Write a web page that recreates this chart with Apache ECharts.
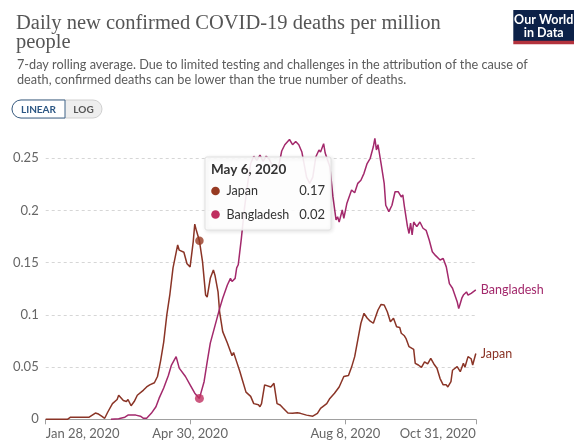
<!DOCTYPE html>
<html><head><meta charset="utf-8">
<script src="https://cdn.jsdelivr.net/npm/echarts@6/dist/echarts.min.js"></script>
<style>html,body{margin:0;padding:0;background:#fff}#c{width:582px;height:443px}</style>
</head><body><div id="c"></div>
<script>
// ---- data (7-day avg deaths per million) ----
const japan = [
['2020-01-28',0],['2020-02-11',0],['2020-02-13',0.002],['2020-02-18',0.002],['2020-02-25',0.002],
['2020-02-29',0.006],['2020-03-02',0.005],['2020-03-04',0.003],['2020-03-06',0.001],['2020-03-08',0.007],
['2020-03-11',0.015],['2020-03-14',0.019],['2020-03-15',0.023],['2020-03-18',0.018],['2020-03-20',0.017],
['2020-03-21',0.019],['2020-03-23',0.013],['2020-03-25',0.017],['2020-03-27',0.023],['2020-03-31',0.028],
['2020-04-02',0.031],['2020-04-04',0.033],['2020-04-07',0.035],['2020-04-09',0.041],['2020-04-11',0.056],
['2020-04-13',0.074],['2020-04-15',0.100],['2020-04-17',0.120],['2020-04-19',0.145],['2020-04-22',0.167],
['2020-04-23',0.162],['2020-04-26',0.160],['2020-04-28',0.149],['2020-04-30',0.146],['2020-05-02',0.170],
['2020-05-03',0.187],['2020-05-04',0.181],['2020-05-06',0.171],['2020-05-08',0.151],['2020-05-10',0.119],
['2020-05-11',0.117],['2020-05-13',0.135],['2020-05-15',0.143],['2020-05-16',0.138],['2020-05-18',0.122],
['2020-05-19',0.103],['2020-05-21',0.084],['2020-05-24',0.073],['2020-05-26',0.065],['2020-05-27',0.061],
['2020-05-28',0.064],['2020-05-30',0.055],['2020-06-01',0.046],['2020-06-03',0.036],['2020-06-05',0.026],
['2020-06-08',0.022],['2020-06-10',0.015],['2020-06-13',0.014],['2020-06-14',0.012],['2020-06-15',0.015],
['2020-06-17',0.033],['2020-06-18',0.033],['2020-06-21',0.031],['2020-06-23',0.0345],['2020-06-25',0.015],
['2020-06-27',0.0137],['2020-06-29',0.0105],['2020-07-02',0.006],['2020-07-05',0.0057],['2020-07-08',0.0063],
['2020-07-10',0.0057],['2020-07-14',0.004],['2020-07-18',0.003],['2020-07-21',0.0057],['2020-07-23',0.0105],
['2020-07-27',0.015],['2020-07-29',0.020],['2020-08-01',0.025],['2020-08-04',0.031],['2020-08-07',0.041],
['2020-08-10',0.042],['2020-08-12',0.050],['2020-08-14',0.060],['2020-08-16',0.076],['2020-08-18',0.092],
['2020-08-20',0.1015],['2020-08-22',0.097],['2020-08-24',0.094],['2020-08-26',0.092],['2020-08-29',0.1047],
['2020-08-31',0.110],['2020-09-02',0.1095],['2020-09-04',0.103],['2020-09-06',0.0935],['2020-09-08',0.0967],
['2020-09-10',0.0887],['2020-09-12',0.088],['2020-09-13',0.0824],['2020-09-15',0.080],['2020-09-16',0.0776],
['2020-09-18',0.0696],['2020-09-21',0.067],['2020-09-22',0.0536],['2020-09-24',0.052],['2020-09-26',0.0498],
['2020-09-28',0.055],['2020-09-30',0.053],['2020-10-02',0.0584],['2020-10-04',0.053],['2020-10-06',0.0489],
['2020-10-08',0.039],['2020-10-10',0.033],['2020-10-12',0.033],['2020-10-13',0.031],['2020-10-15',0.036],
['2020-10-16',0.047],['2020-10-19',0.0504],['2020-10-21',0.0456],['2020-10-23',0.0536],['2020-10-24',0.0498],
['2020-10-26',0.060],['2020-10-28',0.058],['2020-10-29',0.052],['2020-10-31',0.063]
];
const bangladesh = [
['2020-03-10',0],['2020-03-15',0.0005],['2020-03-19',0.002],['2020-03-21',0.004],['2020-03-26',0.004],
['2020-03-29',0.003],['2020-03-31',0.001],['2020-04-02',0.001],['2020-04-05',0.0057],['2020-04-08',0.012],
['2020-04-10',0.020],['2020-04-13',0.030],['2020-04-16',0.042],['2020-04-18',0.052],['2020-04-21',0.060],
['2020-04-23',0.049],['2020-04-27',0.041],['2020-04-30',0.033],['2020-05-03',0.025],['2020-05-06',0.020],
['2020-05-09',0.036],['2020-05-11',0.055],['2020-05-13',0.073],['2020-05-15',0.084],['2020-05-17',0.095],
['2020-05-19',0.106],['2020-05-21',0.116],['2020-05-24',0.1286],['2020-05-26',0.135],['2020-05-27',0.132],
['2020-05-29',0.135],['2020-05-30',0.145],['2020-05-31',0.148],['2020-06-02',0.173],['2020-06-04',0.202],
['2020-06-06',0.225],['2020-06-08',0.245],['2020-06-10',0.252],['2020-06-12',0.248],['2020-06-14',0.253],
['2020-06-16',0.247],['2020-06-18',0.252],['2020-06-20',0.249],['2020-06-22',0.243],['2020-06-24',0.241],
['2020-06-26',0.242],['2020-06-28',0.257],['2020-06-30',0.263],['2020-07-01',0.263],['2020-07-03',0.268],
['2020-07-05',0.263],['2020-07-07',0.266],['2020-07-09',0.263],['2020-07-11',0.256],['2020-07-14',0.232],
['2020-07-16',0.226],['2020-07-18',0.232],['2020-07-20',0.2515],['2020-07-22',0.258],['2020-07-23',0.256],
['2020-07-25',0.264],['2020-07-26',0.255],['2020-07-29',0.242],['2020-07-31',0.213],['2020-08-02',0.191],
['2020-08-03',0.194],['2020-08-04',0.189],['2020-08-06',0.2005],['2020-08-07',0.1925],['2020-08-09',0.207],
['2020-08-12',0.2196],['2020-08-14',0.217],['2020-08-16',0.226],['2020-08-18',0.229],['2020-08-20',0.2356],
['2020-08-22',0.245],['2020-08-24',0.250],['2020-08-26',0.261],['2020-08-27',0.269],['2020-08-28',0.258],
['2020-08-29',0.263],['2020-08-31',0.245],['2020-09-02',0.226],['2020-09-03',0.205],['2020-09-04',0.202],
['2020-09-05',0.199],['2020-09-07',0.205],['2020-09-09',0.218],['2020-09-11',0.218],['2020-09-13',0.213],
['2020-09-14',0.215],['2020-09-15',0.204],['2020-09-17',0.1845],['2020-09-18',0.178],['2020-09-19',0.188],
['2020-09-20',0.1766],['2020-09-21',0.189],['2020-09-23',0.1845],['2020-09-25',0.189],['2020-09-27',0.183],
['2020-09-29',0.181],['2020-10-01',0.1718],['2020-10-03',0.1605],['2020-10-05',0.157],['2020-10-06',0.158],
['2020-10-08',0.1526],['2020-10-09',0.153],['2020-10-10',0.154],['2020-10-12',0.146],['2020-10-13',0.145],
['2020-10-14',0.130],['2020-10-16',0.1255],['2020-10-17',0.124],['2020-10-19',0.1127],['2020-10-20',0.106],
['2020-10-21',0.111],['2020-10-22',0.116],['2020-10-23',0.119],['2020-10-24',0.118],['2020-10-25',0.122],
['2020-10-26',0.119],['2020-10-28',0.1207],['2020-10-29',0.121],['2020-10-31',0.124]
];
const xTickDates = ['2020-01-28','2020-04-30','2020-08-08','2020-10-31'];
const yTicks = [0, 0.05, 0.1, 0.15, 0.2, 0.25];
const hoverDate = '2020-05-06';
const seriesNames = ['Japan', 'Bangladesh'];
const titleText = 'Daily new confirmed COVID-19 deaths per million\npeople';
const subtitleText = '7-day rolling average. Due to limited testing and challenges in the attribution of the cause of\ndeath, confirmed deaths can be lower than the true number of deaths.';

// ---- helpers ----
const MONTHS = ['Jan','Feb','Mar','Apr','May','Jun','Jul','Aug','Sep','Oct','Nov','Dec'];
function ts(s){ const p = s.split('-').map(Number); return Date.UTC(p[0], p[1]-1, p[2]); }
function fmtDate(t){ const d = new Date(t); return MONTHS[d.getUTCMonth()] + ' ' + d.getUTCDate() + ', ' + d.getUTCFullYear(); }
function valueAt(arr, date){ const r = arr.find(p => p[0] === date); return r ? r[1] : null; }

const C_JAPAN = '#8a3426', C_BANG = '#a3296c';
const DOT_JAPAN = '#973a22', DOT_BANG = '#bf2f60';
const xTicks = xTickDates.map(ts);
const hoverTs = ts(hoverDate);
const jHover = valueAt(japan, hoverDate), bHover = valueAt(bangladesh, hoverDate);

const chart = echarts.init(document.getElementById('c'), null, {renderer: 'canvas'});
const FONT = 'Lato, "Noto Sans", sans-serif';

chart.setOption({
  animation: false,
  backgroundColor: '#fff',
  textStyle: {fontFamily: FONT},
  title: [
    {text: titleText, left: 11, top: 9,
     textStyle: {fontFamily: '"Liberation Serif", serif', fontSize: 20.5, fontWeight: 'normal', color: '#555', lineHeight: 19}},
    {text: subtitleText, left: 12, top: 52.5,
     textStyle: {fontFamily: FONT, fontSize: 12.7, fontWeight: 'normal', color: '#5b5b5b', lineHeight: 15}}
  ],
  grid: {left: 45.7, right: 106.2, top: 158.3, bottom: 23.7, containLabel: false, outerBoundsMode: 'none'},
  xAxis: {
    type: 'value',
    min: xTicks[0], max: xTicks[xTicks.length-1],
    axisLine: {show: true, lineStyle: {color: '#a0a0a0', width: 1}},
    axisTick: {show: true, customValues: xTicks, length: 5, lineStyle: {color: '#a0a0a0'}},
    axisLabel: {customValues: xTicks, formatter: v => fmtDate(v), color: '#666', fontSize: 13, fontFamily: FONT, margin: 8,
                alignMinLabel: 'left', alignMaxLabel: 'right', showMinLabel: true, showMaxLabel: true},
    splitLine: {show: false}
  },
  yAxis: {
    type: 'value', min: yTicks[0], max: yTicks[yTicks.length-1], interval: yTicks[1]-yTicks[0],
    axisLine: {show: false}, axisTick: {show: false},
    axisLabel: {color: '#666', fontSize: 13, fontFamily: FONT, margin: 7, formatter: v => String(+(+v).toFixed(2))},
    splitLine: {show: true, lineStyle: {color: '#d6d6d6', type: [3, 3], width: 1}}
  },
  series: [
    {name: seriesNames[0], type: 'line', data: japan.map(p => [ts(p[0]), p[1]]), showSymbol: false, clip: false,
     lineStyle: {color: C_JAPAN, width: 1.5}, itemStyle: {color: C_JAPAN}, z: 3,
     endLabel: {show: true, formatter: '{a}', color: C_JAPAN, fontSize: 12.5, fontFamily: FONT, distance: 5},
     markLine: {silent: true, symbol: ['none','none'], label: {show: false}, animation: false,
       lineStyle: {color: '#dcdcdc', width: 1, type: 'solid'},
       data: [[{coord: [hoverTs, 0]}, {coord: [hoverTs, 0.271]}]]}},
    {name: seriesNames[1], type: 'line', data: bangladesh.map(p => [ts(p[0]), p[1]]), showSymbol: false, clip: false,
     lineStyle: {color: C_BANG, width: 1.5}, itemStyle: {color: C_BANG}, z: 3,
     endLabel: {show: true, formatter: '{a}', color: C_BANG, fontSize: 12.5, fontFamily: FONT, distance: 5}},
    {type: 'scatter', data: [[hoverTs, jHover]], symbolSize: 8.5, itemStyle: {color: DOT_JAPAN}, z: 5, silent: true, clip: false},
    {type: 'scatter', data: [[hoverTs, bHover]], symbolSize: 9, itemStyle: {color: DOT_BANG}, z: 5, silent: true, clip: false}
  ],
  graphic: [
    {type: 'rect', z: 50, shape: {x: 12, y: 100, width: 90, height: 18, r: 9}, style: {fill: '#eeeeee', stroke: '#d0d0d0', lineWidth: 1}},
    {type: 'rect', z: 51, shape: {x: 12, y: 100, width: 53, height: 18, r: [9,0,0,9]}, style: {fill: '#ffffff', stroke: '#3f6287', lineWidth: 1}},
    {type: 'text', z: 52, style: {x: 38.5, y: 109.5, text: 'LINEAR', fill: '#2c5784', font: 'bold 10px ' + FONT, textAlign: 'center', textVerticalAlign: 'middle'}},
    {type: 'text', z: 52, style: {x: 83.5, y: 109.5, text: 'LOG', fill: '#555', font: 'bold 10px ' + FONT, textAlign: 'center', textVerticalAlign: 'middle'}},
    {type: 'rect', z: 50, shape: {x: 513.3, y: 10, width: 60.7, height: 31}, style: {fill: '#0c2148'}},
    {type: 'rect', z: 50, shape: {x: 513.3, y: 40.7, width: 60.7, height: 3.6}, style: {fill: '#b3323d'}},
    {type: 'text', z: 51, style: {x: 543.7, y: 19.5, text: 'Our World', fill: '#fff', font: 'bold 12.5px ' + FONT, textAlign: 'center', textVerticalAlign: 'middle'}},
    {type: 'text', z: 51, style: {x: 543.7, y: 32.5, text: 'in Data', fill: '#fff', font: 'bold 12.5px ' + FONT, textAlign: 'center', textVerticalAlign: 'middle'}},
    {type: 'rect', z: 100, shape: {x: 205, y: 157, width: 126, height: 73, r: 2},
     style: {fill: 'rgba(255,255,255,0.9)', stroke: '#e2e2e2', lineWidth: 1, shadowBlur: 4, shadowColor: 'rgba(0,0,0,0.12)', shadowOffsetX: 1, shadowOffsetY: 1}},
    {type: 'text', z: 101, style: {x: 211, y: 170, text: fmtDate(hoverTs), fill: '#333', font: 'bold 13.5px ' + FONT, textVerticalAlign: 'middle'}},
    {type: 'circle', z: 101, shape: {cx: 215.5, cy: 191, r: 4.3}, style: {fill: DOT_JAPAN}},
    {type: 'circle', z: 101, shape: {cx: 215.5, cy: 214.5, r: 4.3}, style: {fill: DOT_BANG}},
    {type: 'text', z: 101, style: {x: 226.5, y: 191, text: seriesNames[0], fill: '#333', font: '12.5px ' + FONT, textVerticalAlign: 'middle'}},
    {type: 'text', z: 101, style: {x: 226.5, y: 214.5, text: seriesNames[1], fill: '#333', font: '12.5px ' + FONT, textVerticalAlign: 'middle'}},
    {type: 'text', z: 101, style: {x: 325, y: 191, text: jHover.toFixed(2), fill: '#333', font: '13px ' + FONT, textAlign: 'right', textVerticalAlign: 'middle'}},
    {type: 'text', z: 101, style: {x: 325, y: 214.5, text: bHover.toFixed(2), fill: '#333', font: '13px ' + FONT, textAlign: 'right', textVerticalAlign: 'middle'}}
  ]
});
</script>
</body></html>
